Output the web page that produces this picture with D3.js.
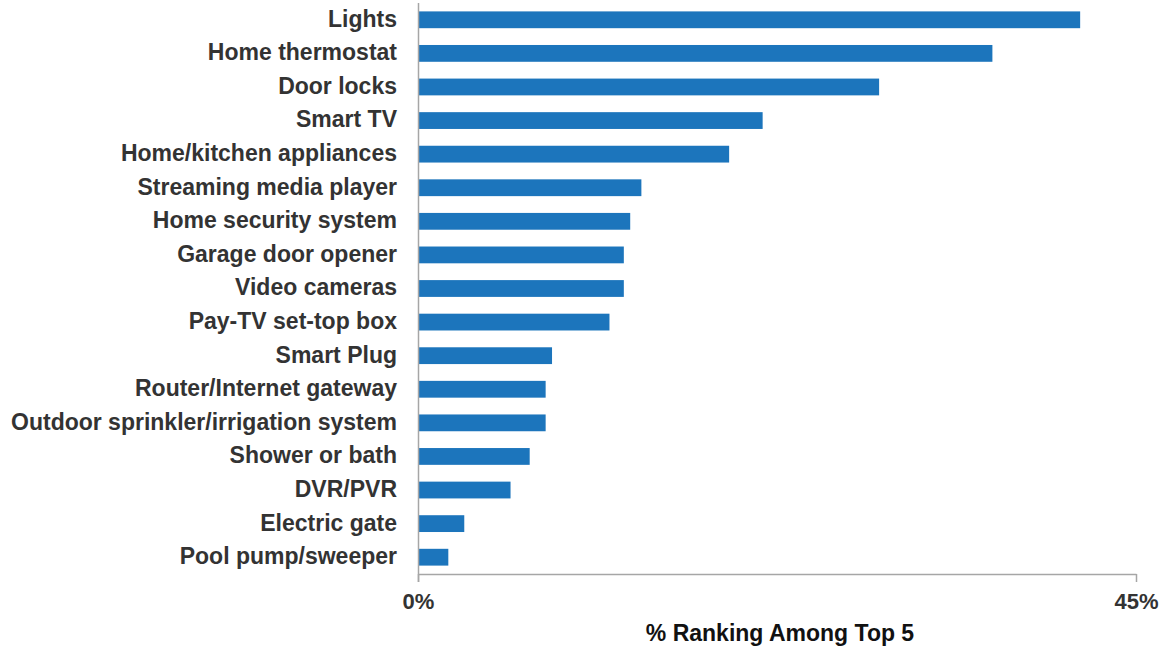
<!DOCTYPE html>
<html>
<head>
<meta charset="utf-8">
<script src="https://cdn.jsdelivr.net/npm/d3@7"></script>
<style>
  body { margin: 0; background: #fff; }
  text { font-family: "Liberation Sans", Arial, sans-serif; font-weight: bold; fill: #333; }
</style>
</head>
<body>
<svg id="chart" width="1160" height="649"></svg>
<script>
var categories = ["Lights", "Home thermostat", "Door locks", "Smart TV", "Home/kitchen appliances",
  "Streaming media player", "Home security system", "Garage door opener", "Video cameras",
  "Pay-TV set-top box", "Smart Plug", "Router/Internet gateway", "Outdoor sprinkler/irrigation system",
  "Shower or bath", "DVR/PVR", "Electric gate", "Pool pump/sweeper"];
var values = [41.5, 36.0, 28.9, 21.6, 19.5, 14.0, 13.3, 12.9, 12.9, 12.0, 8.4, 8.0, 8.0, 7.0, 5.8, 2.9, 1.9];
var tickValues = [0, 45];
var axisTitle = "% Ranking Among Top 5";

var svg = d3.select("#chart"),
    margin = {top: 3, right: 24, bottom: 75, left: 418},
    width = +svg.attr("width") - margin.left - margin.right,
    height = +svg.attr("height") - margin.top - margin.bottom,
    g = svg.append("g").attr("transform", "translate(" + margin.left + "," + margin.top + ")");

var x = d3.scaleLinear().domain([0, 45]).range([0, width]);
var y = d3.scaleBand().domain(categories).range([0, height]).paddingInner(0.5).paddingOuter(0.25);

g.selectAll(".bar")
  .data(values)
  .enter().append("rect")
    .attr("class", "bar")
    .attr("x", x(0))
    .attr("y", function(d, i) { return y(categories[i]); })
    .attr("width", function(d) { return x(d) - x(0); })
    .attr("height", y.bandwidth())
    .attr("fill", "#1c75bc");

// category labels
g.selectAll(".cat")
  .data(categories)
  .enter().append("text")
    .attr("class", "cat")
    .attr("x", -21)
    .attr("y", function(d) { return y(d) + y.bandwidth() / 2; })
    .attr("dy", "0.3em")
    .attr("text-anchor", "end")
    .style("font-size", "23px")
    .text(function(d) { return d; });

// y axis line
g.append("line")
  .attr("x1", 0.5).attr("x2", 0.5)
  .attr("y1", 0).attr("y2", height + 8)
  .attr("stroke", "#a6a6a6").attr("stroke-width", 1.5);

// x axis
var xAxis = g.append("g")
  .attr("transform", "translate(0," + height + ")")
  .call(d3.axisBottom(x).tickValues(tickValues).tickSize(8).tickSizeOuter(0)
    .tickFormat(function(d) { return d + "%"; }));
xAxis.select(".domain").attr("stroke", "#a6a6a6").attr("stroke-width", 1.5);
xAxis.selectAll(".tick line").attr("stroke", "#a6a6a6").attr("stroke-width", 1.5);
xAxis.selectAll(".tick text")
  .attr("y", 19)
  .style("font-size", "22px")
  .style("font-family", "Liberation Sans, Arial, sans-serif")
  .style("font-weight", "bold")
  .attr("fill", "#333");

g.append("text")
  .attr("x", width / 2 + 3)
  .attr("y", height + 67)
  .attr("text-anchor", "middle")
  .style("font-size", "23px")
  .style("fill", "#111")
  .text(axisTitle);
</script>
</body>
</html>
